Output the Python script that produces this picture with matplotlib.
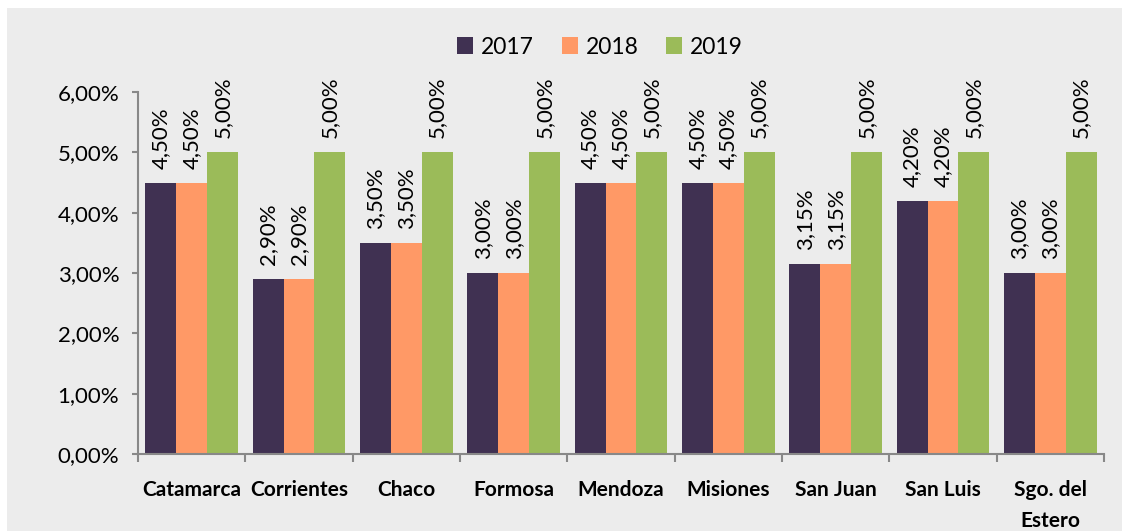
import numpy as np
import matplotlib
matplotlib.use('Agg')
import matplotlib.pyplot as plt
from matplotlib.patches import Rectangle

provincias = ['Catamarca', 'Corrientes', 'Chaco', 'Formosa', 'Mendoza',
              'Misiones', 'San Juan', 'San Luis', 'Sgo. del\nEstero']
anios = ['2017', '2018', '2019']
v2017 = [4.50, 2.90, 3.50, 3.00, 4.50, 4.50, 3.15, 4.20, 3.00]
v2018 = [4.50, 2.90, 3.50, 3.00, 4.50, 4.50, 3.15, 4.20, 3.00]
v2019 = [5.00, 5.00, 5.00, 5.00, 5.00, 5.00, 5.00, 5.00, 5.00]
yticks = [0, 1, 2, 3, 4, 5, 6]

colores = ['#403152', '#FF9966', '#9BBB59']
plt.rcParams['font.family'] = ['Lato', 'DejaVu Sans']

W, H = 1122, 531
fig = plt.figure(figsize=(W / 100, H / 100), dpi=100)
fig.patch.set_facecolor('white')
fig.patches.append(Rectangle((7 / W, 0), 1, (H - 8) / H, transform=fig.transFigure,
                             facecolor='#ececec', edgecolor='none', zorder=-10))

ax = fig.add_axes([138 / W, (H - 454) / H, (1104 - 138) / W, (454 - 92) / H])
ax.set_facecolor('none')

x = np.arange(len(provincias))
w = 0.287
for i, (serie, col, nombre) in enumerate(zip([v2017, v2018, v2019], colores, anios)):
    barras = ax.bar(x + (i - 1) * w, serie, w, color=col, label=nombre)
    for b, v in zip(barras, serie):
        ax.annotate(f'{v:.2f}%'.replace('.', ','),
                    (b.get_x() + b.get_width() / 2, v),
                    xytext=(0, 10), textcoords='offset points',
                    rotation=90, ha='center', va='bottom', fontsize=16)

ax.set_xlim(-0.5, len(provincias) - 0.5)
ax.set_ylim(0, 6)
ax.set_yticks(yticks)
ax.set_yticklabels([f'{t:.2f}%'.replace('.', ',') for t in yticks], fontsize=16)
ax.set_xticks(x)
ax.set_xticklabels(provincias, fontsize=15, fontweight='bold', linespacing=1.65)
ax.set_xticks(np.arange(len(provincias) + 1) - 0.5, minor=True)
ax.tick_params(axis='x', which='major', length=0, pad=19)
ax.tick_params(axis='x', which='minor', length=5.5, color='#888888', width=1.5)
ax.tick_params(axis='y', length=4.5, color='#888888', width=1.5, pad=9)

for s in ['top', 'right']:
    ax.spines[s].set_visible(False)
for s in ['left', 'bottom']:
    ax.spines[s].set_color('#888888')
    ax.spines[s].set_linewidth(1.5)

fig.legend(loc='center', bbox_to_anchor=(600 / W, (H - 47) / H), ncol=3,
           frameon=False, fontsize=16.5, handlelength=0.7, handleheight=0.7,
           handletextpad=0.35, columnspacing=1.2)

fig.savefig('out.png', dpi=100)
